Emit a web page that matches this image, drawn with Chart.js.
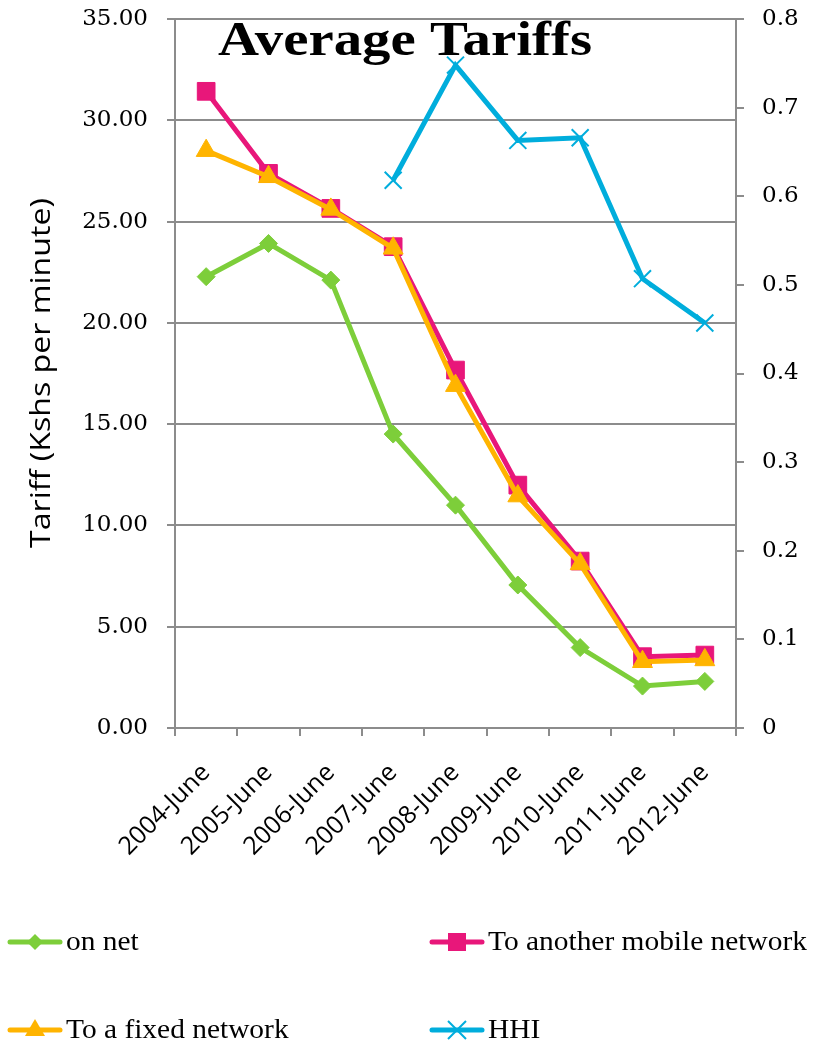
<!DOCTYPE html>
<html>
<head>
<meta charset="utf-8">
<script src="https://cdn.jsdelivr.net/npm/chart.js@4.4.1/dist/chart.umd.min.js"></script>
<style>
  html, body { margin: 0; padding: 0; background: #ffffff; }
  canvas { display: block; }
</style>
</head>
<body>
<canvas id="tariffs" width="821" height="1041"></canvas>
<script>
// Survey periods (x categories)
const periods = ['2004-June', '2005-June', '2006-June', '2007-June', '2008-June',
                 '2009-June', '2010-June', '2011-June', '2012-June'];

// Average tariffs, Kshs per minute
const onNet         = [22.28, 23.92, 22.11, 14.51, 11.00, 7.06, 3.97, 2.07, 2.30];
const toOtherMobile = [31.43, 27.38, 25.65, 23.76, 17.67, 11.99, 8.24, 3.52, 3.60];
const toFixed       = [28.50, 27.21, 25.60, 23.68, 16.90, 11.45, 8.10, 3.27, 3.36];

// Market concentration index (right axis)
const hhi = [null, null, null, 0.618, 0.748, 0.663, 0.666, 0.507, 0.457];

// Series names
const seriesNames = ['on net', 'To another mobile network', 'To a fixed network', 'HHI'];

const GREEN = '#7dce3a';
const PINK = '#e8177a';
const ORANGE = '#ffb400';
const BLUE = '#00addc';
const GRID = '#8c8c8c';

// Draws one legend marker symbol
function drawSymbol(ctx, style, x, y, color) {
  ctx.save();
  ctx.fillStyle = color;
  ctx.strokeStyle = color;
  ctx.beginPath();
  if (style === 'rectRot') {
    const r = 8;
    ctx.moveTo(x, y - r); ctx.lineTo(x + r, y); ctx.lineTo(x, y + r); ctx.lineTo(x - r, y);
    ctx.closePath(); ctx.fill();
  } else if (style === 'rect') {
    ctx.rect(x - 9, y - 9, 18, 18); ctx.fill();
  } else if (style === 'triangle') {
    ctx.moveTo(x, y - 11); ctx.lineTo(x + 10, y + 6); ctx.lineTo(x - 10, y + 6);
    ctx.closePath(); ctx.fill();
  } else if (style === 'crossRot') {
    const r = 9;
    ctx.lineWidth = 2;
    ctx.moveTo(x - r, y - r); ctx.lineTo(x + r, y + r);
    ctx.moveTo(x + r, y - r); ctx.lineTo(x - r, y + r);
    ctx.stroke();
  }
  ctx.restore();
}

// Title, rotated y-axis title and a two-column legend
const decorations = {
  id: 'decorations',
  afterDraw(chart) {
    const ctx = chart.ctx;
    ctx.save();

    // Chart title
    ctx.fillStyle = '#000';
    ctx.textAlign = 'center';
    ctx.textBaseline = 'alphabetic';
    ctx.font = 'bold 48px "Liberation Serif"';
    const tw = ctx.measureText('Average Tariffs').width;
    ctx.save();
    ctx.translate(405, 55);
    ctx.scale(374 / tw, 1);
    ctx.fillText('Average Tariffs', 0, 0);
    ctx.restore();

    // Left axis title
    ctx.font = '28px "Open Sans"';
    const yt = 'Tariff (Kshs per minute)';
    const yw = ctx.measureText(yt).width;
    ctx.save();
    ctx.translate(42, 373);
    ctx.rotate(-Math.PI / 2);
    ctx.scale(350 / yw, 1);
    ctx.textBaseline = 'middle';
    ctx.fillText(yt, 0, 0);
    ctx.restore();

    // Legend
    const items = chart.data.datasets.map((ds, i) => ({
      text: seriesNames[i], color: ds.borderColor, style: ds.pointStyle
    }));
    const slots = [[8, 942], [430, 942], [8, 1030], [430, 1030]];
    ctx.font = '28px "Liberation Serif"';
    const ref = ctx.measureText('To another mobile network').width;
    const sx = 319 / ref;
    items.forEach((it, i) => {
      const [x, y] = slots[i];
      ctx.save();
      ctx.strokeStyle = it.color;
      ctx.lineWidth = 5;
      ctx.lineCap = 'round';
      ctx.beginPath();
      ctx.moveTo(x + 2, y); ctx.lineTo(x + 52, y);
      ctx.stroke();
      ctx.restore();
      drawSymbol(ctx, it.style, x + 27, y, it.color);
      ctx.save();
      ctx.translate(x + 58, y);
      ctx.scale(sx, 1);
      ctx.textAlign = 'left';
      ctx.textBaseline = 'middle';
      ctx.fillStyle = '#000';
      ctx.fillText(it.text, 0, 1);
      ctx.restore();
    });
    ctx.restore();
  }
};

function lineSeries(label, data, color, style, radius, order, axis) {
  return {
    label, data,
    yAxisID: axis,
    borderColor: color,
    backgroundColor: color,
    borderWidth: 5,
    pointStyle: style,
    pointRadius: radius,
    pointBorderWidth: style === 'crossRot' ? 2 : 1,
    pointBackgroundColor: color,
    pointBorderColor: color,
    tension: 0,
    order,
    spanGaps: false
  };
}

// Vertical scales keep a fixed width and add no extra top/bottom padding
function fixVertical(width) {
  return function (scale) {
    scale.width = width;
    scale.paddingTop = 0;
    scale.paddingBottom = 0;
  };
}

new Chart(document.getElementById('tariffs'), {
  type: 'line',
  data: {
    labels: periods,
    datasets: [
      lineSeries(seriesNames[0], onNet, GREEN, 'rectRot', 9, 2, 'yTariff'),
      lineSeries(seriesNames[1], toOtherMobile, PINK, 'rect', 12.5, 1, 'yTariff'),
      lineSeries(seriesNames[2], toFixed, ORANGE, 'triangle', 11.5, 0, 'yTariff'),
      lineSeries(seriesNames[3], hhi, BLUE, 'crossRot', 12, 3, 'yHHI')
    ]
  },
  options: {
    responsive: false,
    animation: false,
    devicePixelRatio: 1,
    layout: { padding: { top: 19, left: 0, right: 0, bottom: 0 } },
    plugins: {
      legend: { display: false },
      title: { display: false },
      tooltip: { enabled: false }
    },
    scales: {
      x: {
        type: 'category',
        offset: true,
        grid: {
          offset: true,
          drawOnChartArea: false,
          drawTicks: true,
          tickLength: 8,
          color: GRID,
          lineWidth: 2
        },
        border: { display: true, color: GRID, width: 2 },
        ticks: {
          color: '#000',
          font: { family: '"Open Sans"', size: 25 },
          minRotation: 45,
          maxRotation: 45,
          padding: 22,
          autoSkip: false
        },
        afterFit(scale) {
          scale.height = 313;
          scale.paddingLeft = 0;
          scale.paddingRight = 0;
        }
      },
      yTariff: {
        type: 'linear',
        position: 'left',
        min: 0,
        max: 35,
        grid: {
          color: GRID,
          lineWidth: 2,
          tickLength: 8,
          drawTicks: true
        },
        border: { display: true, color: GRID, width: 2 },
        ticks: {
          stepSize: 5,
          color: '#000',
          padding: 19,
          font: { family: '"DejaVu Serif"', size: 23 },
          callback: (v) => Number(v).toFixed(2)
        },
        afterFit: fixVertical(175)
      },
      yHHI: {
        type: 'linear',
        position: 'right',
        min: 0,
        max: 0.8,
        grid: {
          drawOnChartArea: false,
          drawTicks: true,
          tickLength: 8,
          color: GRID,
          lineWidth: 2
        },
        border: { display: true, color: GRID, width: 2 },
        ticks: {
          stepSize: 0.1,
          color: '#000',
          padding: 18,
          font: { family: '"DejaVu Serif"', size: 23 },
          callback: (v) => (Math.abs(v) < 1e-9 ? '0' : Number(v).toFixed(1))
        },
        afterFit: fixVertical(85)
      }
    }
  },
  plugins: [decorations]
});
</script>
</body>
</html>
